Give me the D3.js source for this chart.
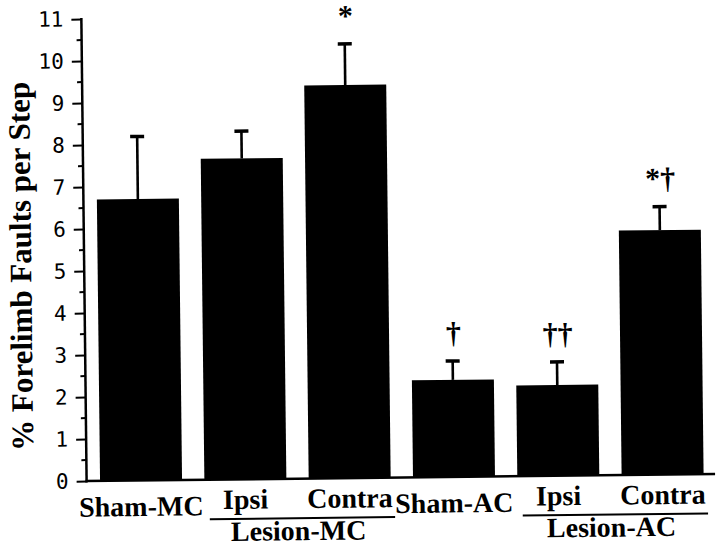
<!DOCTYPE html>
<html><head><meta charset="utf-8">
<script src="https://cdn.jsdelivr.net/npm/d3@7"></script>
<style>body{margin:0;background:#fff;}svg{display:block;}</style>
</head><body>
<svg id="chart" width="720" height="547"></svg>
<script>
const categories = ["Sham-MC","Lesion-MC Ipsi","Lesion-MC Contra","Sham-AC","Lesion-AC Ipsi","Lesion-AC Contra"];
const barLabels = ["Sham-MC","Ipsi","Contra","Sham-AC","Ipsi","Contra"];
const means = [6.70, 7.64, 9.36, 2.31, 2.16, 5.82];
const errTops = [8.19, 8.29, 10.34, 2.76, 2.71, 6.38];
const marks = ["", "", "*", "†", "††", "*†"];
const groups = [{label:"Lesion-MC", from:1, to:2},{label:"Lesion-AC", from:4, to:5}];
const yTicks = [0,1,2,3,4,5,6,7,8,9,10,11];
const yTickLabels = ["0","1","2","3","4","5","6","7","8","9","10","11"];
const yTitle = "% Forelimb Faults per Step";

const svg = d3.select("#chart");
const g = svg.append("g").attr("transform","rotate(-0.65,400,250)");

const axisX = 84, baseY = 477.5;
const y = d3.scaleLinear().domain([0,11]).range([baseY, baseY-462]);
const x = d3.scaleBand().domain(categories).range([86.3, 712.2]).paddingInner(0.214).paddingOuter(0.107);
const bw = x.bandwidth();
const serif = "'Liberation Serif','Times New Roman',serif";

// bars
g.selectAll("rect.bar").data(categories).enter().append("rect")
  .attr("x", d=>x(d)).attr("width", bw)
  .attr("y", (d,i)=>y(means[i])).attr("height",(d,i)=>y(0)-y(means[i]))
  .attr("fill","#000");

// error bars
categories.forEach((c,i)=>{
  const cx = x(c)+bw/2;
  g.append("line").attr("x1",cx).attr("x2",cx).attr("y1",y(means[i])).attr("y2",y(errTops[i]))
    .attr("stroke","#000").attr("stroke-width",2.6);
  g.append("line").attr("x1",cx-7).attr("x2",cx+7).attr("y1",y(errTops[i])).attr("y2",y(errTops[i]))
    .attr("stroke","#000").attr("stroke-width",3.5);
  if(marks[i]){
    g.append("text").attr("x",cx+1).attr("y",y(errTops[i])-18)
      .attr("text-anchor","middle").attr("font-family",serif)
      .attr("font-weight","bold").attr("font-size",30).text(marks[i]);
  }
});

// y axis
const axis = d3.axisLeft(y).tickValues(yTicks).tickFormat((d,i)=>yTickLabels[i]).tickSize(10).tickPadding(8);
const ag = g.append("g").attr("transform",`translate(${axisX},0)`).call(axis);
ag.select(".domain").remove();
ag.selectAll(".tick line").attr("stroke","#000").attr("stroke-width",2);
ag.selectAll(".tick text").attr("font-family","'DejaVu Sans Mono',monospace").attr("font-size",21).attr("fill","#000");
// minor ticks
const minor = d3.range(0.5, 11, 1);
g.selectAll("line.minor").data(minor).enter().append("line")
  .attr("x1",axisX-5).attr("x2",axisX).attr("y1",d=>y(d)).attr("y2",d=>y(d))
  .attr("stroke","#000").attr("stroke-width",2);
g.append("line").attr("x1",axisX).attr("x2",axisX).attr("y1",y(11)-1).attr("y2",baseY+1.5)
  .attr("stroke","#000").attr("stroke-width",2.5);
// baseline
g.append("line").attr("x1",axisX-1).attr("x2",712.5).attr("y1",baseY).attr("y2",baseY)
  .attr("stroke","#000").attr("stroke-width",2.5);

// x labels
barLabels.forEach((t,i)=>{
  const inGroup = groups.some(gr=>i>=gr.from && i<=gr.to);
  g.append("text").attr("x",x(categories[i])+bw/2).attr("y", inGroup?507:513)
    .attr("text-anchor","middle").attr("font-family",serif).attr("font-weight","bold")
    .attr("font-size",28).text(t);
});
groups.forEach(gr=>{
  const x1 = x(categories[gr.from])+5, x2 = x(categories[gr.to])+bw+4;
  g.append("line").attr("x1",x1).attr("x2",x2).attr("y1",517).attr("y2",517)
    .attr("stroke","#000").attr("stroke-width",2);
  g.append("text").attr("x",(x1+x2)/2-4).attr("y",539).attr("text-anchor","middle")
    .attr("font-family",serif).attr("font-weight","bold").attr("font-size",28).text(gr.label);
});

// y title
g.append("text").attr("transform","translate(31,262) rotate(-90)").attr("text-anchor","middle")
  .attr("font-family",serif).attr("font-weight","bold").attr("font-size",31).text(yTitle);
</script>
</body></html>
